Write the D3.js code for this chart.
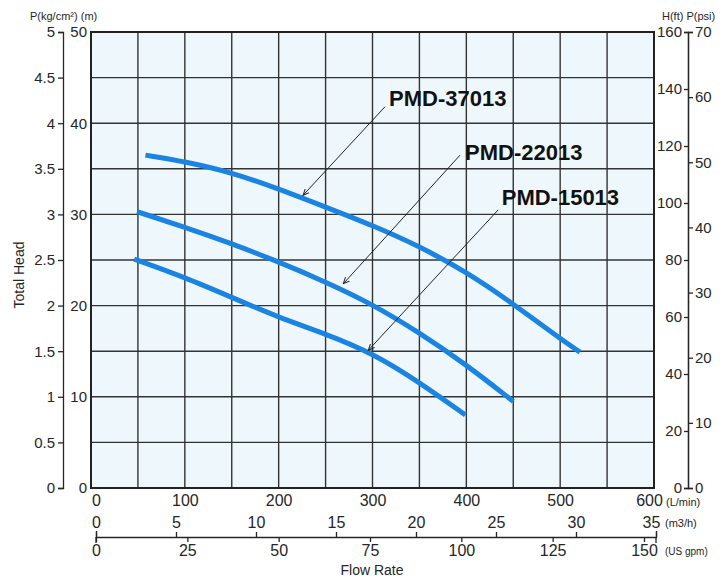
<!DOCTYPE html>
<html>
<head>
<meta charset="utf-8">
<script src="https://cdn.jsdelivr.net/npm/d3@7"></script>
<style>
  body { margin: 0; background: #fff; }
  svg { display: block; font-family: "Liberation Sans", Arial, sans-serif; }
</style>
</head>
<body>
<div id="graph"></div>
<script>
const WIDTH = 728;
const HEIGHT = 580;

// tick values for every scale
const gridFlow = [0, 50, 100, 150, 200, 250, 300, 350, 400, 450, 500, 550, 600];
const gridHead = [0, 5, 10, 15, 20, 25, 30, 35, 40, 45, 50];
const lminTicks = [0, 100, 200, 300, 400, 500, 600];
const m3hTicks = [0, 5, 10, 15, 20, 25, 30, 35];
const gpmTicks = [0, 25, 50, 75, 100, 125, 150];
const kgTicks = [0, 0.5, 1, 1.5, 2, 2.5, 3, 3.5, 4, 4.5, 5];
const mTicks = [0, 10, 20, 30, 40, 50];
const ftTicks = [0, 20, 40, 60, 80, 100, 120, 140, 160];
const psiTicks = [0, 10, 20, 30, 40, 50, 60, 70];

// pump curves: [flow L/min, head m]
const pmd37013 = [[58, 36.5], [100, 35.8], [150, 34.6], [200, 32.8], [250, 30.8], [300, 28.8],
                  [350, 26.5], [400, 23.7], [450, 20.2], [497, 16.6], [521, 14.9]];
const pmd22013 = [[49, 30.3], [100, 28.6], [150, 26.8], [200, 24.8], [250, 22.6], [299, 20.2],
                  [349, 17.1], [399, 13.6], [450, 9.5]];
const pmd15013 = [[46, 25.1], [100, 23.1], [150, 20.9], [200, 18.7], [250, 16.9], [300, 14.8],
                  [350, 11.6], [399, 8]];

// callouts: name, label [flow, head], arrow tail and tip [flow, head]
const names = ["PMD-37013", "PMD-22013", "PMD-15013"];
const labelAt = [[317.6, 41.9], [398.6, 36.0], [437.7, 31.0]];
const tailAt = [[313.3, 41.8], [393.3, 36.5], [434, 30.5]];
const tipAt = [[226, 32.1], [268.9, 22.4], [295.5, 15.1]];

const svg = d3.select("#graph").append("svg")
    .attr("width", WIDTH)
    .attr("height", HEIGHT);

const L = 91, R = 654, T = 32, B = 488;

const x = d3.scaleLinear().domain([0, 600]).range([L, R]);
const y = d3.scaleLinear().domain([0, 50]).range([B, T]);
const yKg = d3.scaleLinear().domain([0, 5]).range([B, T]);
const yFt = d3.scaleLinear().domain([0, 160]).range([B, T]);
const yPsi = d3.scaleLinear().domain([0, 70]).range([B, T]);
const xM3h = d3.scaleLinear().domain([0, 35]).range([96, 656]);
const xGpm = d3.scaleLinear().domain([0, 150]).range([96, 644]);

const ink = "#262626";
const fmt = d => String(d);

// plot background
svg.append("rect")
    .attr("x", L).attr("y", T)
    .attr("width", R - L).attr("height", B - T)
    .style("fill", "#eef8fc");

// grid
svg.append("g")
    .selectAll("line")
    .data(gridFlow)
    .join("line")
    .attr("x1", d => x(d)).attr("x2", d => x(d))
    .attr("y1", T).attr("y2", B)
    .style("stroke", "#333").style("stroke-width", 1.4);

svg.append("g")
    .selectAll("line")
    .data(gridHead)
    .join("line")
    .attr("x1", L).attr("x2", R)
    .attr("y1", d => y(d)).attr("y2", d => y(d))
    .style("stroke", "#333").style("stroke-width", 1.4);

svg.append("rect")
    .attr("x", L).attr("y", T)
    .attr("width", R - L).attr("height", B - T)
    .style("fill", "none")
    .style("stroke", "#222")
    .style("stroke-width", 2);

// curves
const line = d3.line()
    .x(d => x(d[0]))
    .y(d => y(d[1]))
    .curve(d3.curveBasis);

svg.append("g")
    .selectAll("path")
    .data([pmd37013, pmd22013, pmd15013])
    .join("path")
    .attr("d", line)
    .style("fill", "none")
    .style("stroke", "#1b84e3")
    .style("stroke-width", 5)
    .style("stroke-linecap", "butt");

// callouts
svg.append("defs").append("marker")
    .attr("id", "head")
    .attr("viewBox", "0 0 10 10")
    .attr("refX", 9).attr("refY", 5)
    .attr("markerWidth", 7).attr("markerHeight", 7)
    .attr("orient", "auto")
    .append("path")
    .attr("d", "M0,1 L9,5 L0,9")
    .style("fill", "none")
    .style("stroke", "#222")
    .style("stroke-width", 1.4);

svg.append("g")
    .selectAll("line")
    .data(names)
    .join("line")
    .attr("x1", (d, i) => x(tailAt[i][0]))
    .attr("y1", (d, i) => y(tailAt[i][1]))
    .attr("x2", (d, i) => x(tipAt[i][0]))
    .attr("y2", (d, i) => y(tipAt[i][1]))
    .style("stroke", "#222")
    .style("stroke-width", 1)
    .attr("marker-end", "url(#head)");

svg.append("g")
    .selectAll("text")
    .data(names)
    .join("text")
    .attr("x", (d, i) => x(labelAt[i][0]))
    .attr("y", (d, i) => y(labelAt[i][1]))
    .text(d => d)
    .style("font-size", "22px")
    .style("font-weight", "bold")
    .style("fill", "#111");

// axes styling helper
function style(g, size) {
    g.selectAll("text").style("font-size", size + "px").style("fill", ink).style("font-family", null);
    g.selectAll("line").style("stroke", ink).style("stroke-width", 1.3);
    g.selectAll(".domain").style("stroke", ink).style("stroke-width", 1.3);
}

// left: kg/cm2
svg.append("g")
    .attr("transform", "translate(63,0)")
    .call(d3.axisLeft(yKg).tickValues(kgTicks).tickFormat(fmt).tickSize(5).tickSizeOuter(5).tickPadding(3))
    .call(g => style(g, 15));

// left: metres
svg.append("g")
    .attr("transform", "translate(89,0)")
    .call(d3.axisLeft(y).tickValues(mTicks).tickFormat(fmt).tickSize(0).tickPadding(2))
    .call(g => g.select(".domain").remove())
    .call(g => style(g, 15));

// right: feet
svg.append("g")
    .attr("transform", "translate(688,0)")
    .call(d3.axisLeft(yFt).tickValues(ftTicks).tickFormat(fmt).tickSize(4).tickSizeOuter(4).tickPadding(2))
    .call(g => style(g, 15));

// right: psi
svg.append("g")
    .attr("transform", "translate(688,0)")
    .call(d3.axisRight(yPsi).tickValues(psiTicks).tickFormat(fmt).tickSize(5).tickSizeOuter(5).tickPadding(2))
    .call(g => style(g, 15));

// bottom: L/min
svg.append("g")
    .attr("transform", "translate(0," + B + ")")
    .call(d3.axisBottom(x).tickValues(lminTicks).tickFormat(fmt).tickSize(0).tickPadding(7))
    .call(g => g.select(".domain").remove())
    .call(g => style(g, 16))
    .call(g => g.selectAll(".tick text").attr("dx", d => d === 0 ? 5 : d === 600 ? -5 : 0));

// bottom: m3/h
const flowY = 537;
svg.append("g")
    .attr("transform", "translate(0," + flowY + ")")
    .call(d3.axisTop(xM3h).tickValues(m3hTicks).tickFormat(fmt).tickSize(5).tickSizeOuter(6).tickPadding(4))
    .call(g => style(g, 16))
    .call(g => g.selectAll(".tick text").attr("dx", d => d === 35 ? -5 : 0));

// bottom: US gpm
svg.append("g")
    .attr("transform", "translate(0," + flowY + ")")
    .call(d3.axisBottom(xGpm).tickValues(gpmTicks).tickFormat(fmt).tickSize(5).tickPadding(3))
    .call(g => g.select(".domain").remove())
    .call(g => style(g, 16));

// end bars below the flow line
svg.append("g")
    .selectAll("line")
    .data(xM3h.domain())
    .join("line")
    .attr("x1", d => xM3h(d)).attr("x2", d => xM3h(d))
    .attr("y1", flowY).attr("y2", flowY + 6)
    .style("stroke", ink).style("stroke-width", 1.3);

// unit and axis titles
const small = [
    ["(L/min)", 666, 506, 11, "start"],
    ["(m3/h)", 665, 527, 11, "start"],
    ["(US gpm)", 665, 555, 10, "start"],
    ["P(kg/cm²) (m)", 30, 20, 11, "start"],
    ["H(ft) P(psi)", 662, 20, 11, "start"],
    ["Flow Rate", 372, 575, 14, "middle"]
];
svg.append("g")
    .selectAll("text")
    .data(small)
    .join("text")
    .attr("x", d => d[1]).attr("y", d => d[2])
    .attr("text-anchor", d => d[4])
    .text(d => d[0])
    .style("font-size", d => d[3] + "px")
    .style("fill", ink);

svg.append("text")
    .attr("transform", "translate(24,275) rotate(-90)")
    .attr("text-anchor", "middle")
    .text("Total Head")
    .style("font-size", "14px")
    .style("fill", ink);
</script>
</body>
</html>
